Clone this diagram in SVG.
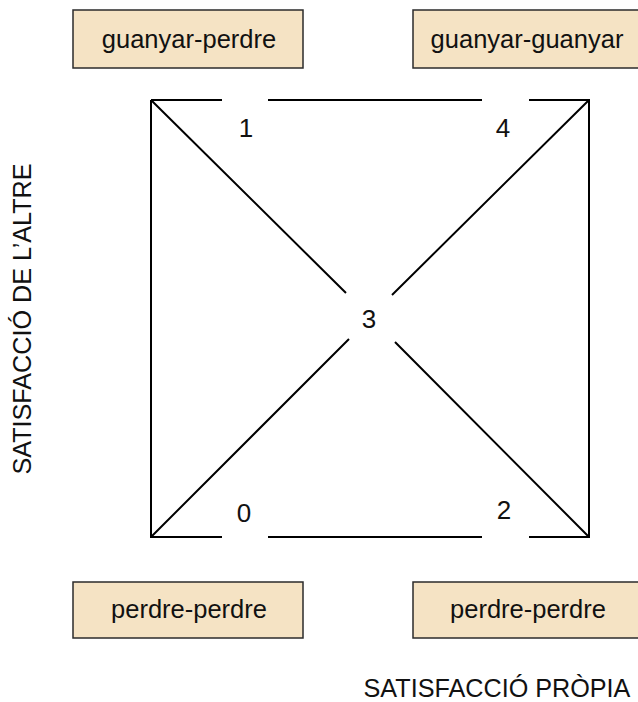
<svg xmlns="http://www.w3.org/2000/svg" width="638" height="702" viewBox="0 0 638 702">
<style>
.box{fill:#f5e3c4;stroke:#2b2b2b;stroke-width:1.5}
.t{font-family:"Liberation Sans",Arial,sans-serif;font-size:25.5px;fill:#111;text-anchor:middle;dominant-baseline:central}
.a{font-family:"Liberation Sans",Arial,sans-serif;font-size:25.2px;fill:#111;text-anchor:middle}
.n{font-family:"Liberation Sans",Arial,sans-serif;font-size:26px;fill:#111;text-anchor:middle;dominant-baseline:central}
.ln{stroke:#000;stroke-width:2;fill:none}
</style>
<rect width="638" height="702" fill="#fff"/>
<g id="gp"><rect class="box" x="73" y="10" width="230" height="58"/><text class="t" x="189" y="39">guanyar-perdre</text></g>
<g id="gg"><rect class="box" x="413" y="10" width="230" height="58"/><text class="t" x="527" y="39">guanyar-guanyar</text></g>
<g id="pp1"><rect class="box" x="73" y="582" width="230" height="56"/><text class="t" x="189" y="609">perdre-perdre</text></g>
<g id="pp2"><rect class="box" x="413" y="582" width="230" height="56"/><text class="t" x="528" y="609">perdre-perdre</text></g>
<g id="connectors">
<path class="ln" d="M151,100 H222 M268,100 H482 M529,100 H589 V537 H529 M482,537 H268 M222,537 H151 V100"/>
<path class="ln" d="M151,100 L346,293 M589,100 L392,295 M151,537 L349,339 M589,537 L395,342"/>
</g>
<g id="labels">
<text class="n" x="246" y="128">1</text>
<text class="n" x="503" y="128">4</text>
<text class="n" x="369" y="319">3</text>
<text class="n" x="244" y="513">0</text>
<text class="n" x="504" y="510">2</text>
</g>
<text class="a" x="497" y="696.5">SATISFACCIÓ PRÒPIA</text>
<text class="a" transform="translate(31,319) rotate(-90)" x="0" y="0">SATISFACCIÓ DE L’ALTRE</text>
</svg>
